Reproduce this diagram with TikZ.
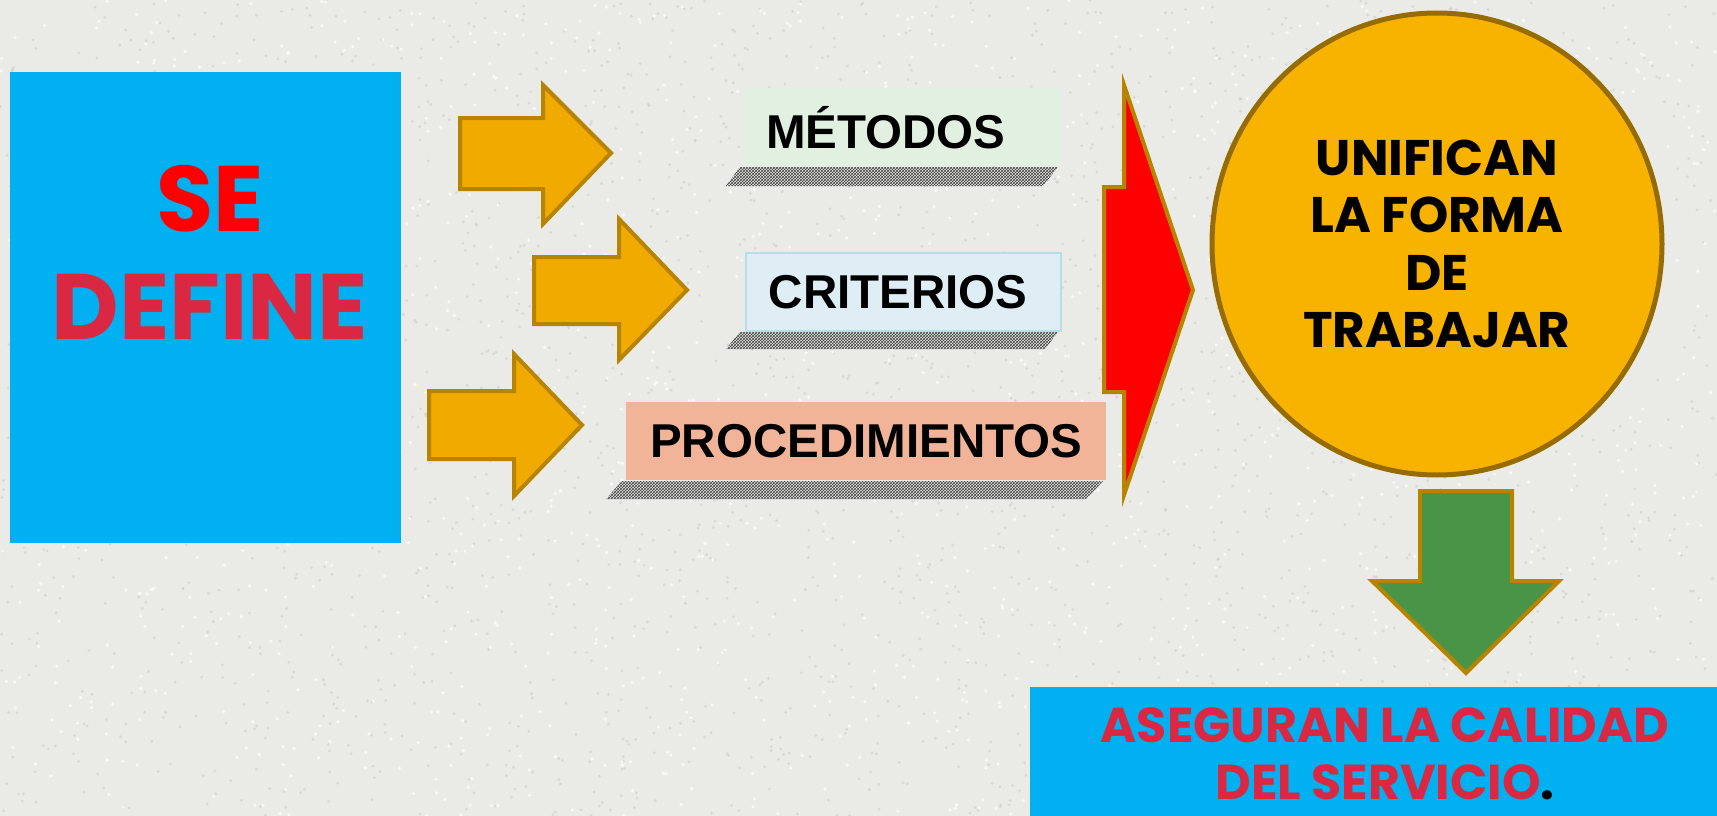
\documentclass[tikz,border=0pt]{standalone}
\usepackage{fontspec}
\newfontfamily\comicf{Poppins}
\newfontfamily\arialf{Liberation Sans}
\usetikzlibrary{shapes.geometric,patterns}
\definecolor{bg}{RGB}{234,234,230}
\definecolor{speck}{RGB}{205,205,200}
\definecolor{skyb}{RGB}{0,176,240}
\definecolor{crim}{RGB}{218,40,66}
\definecolor{orfill}{RGB}{240,170,0}
\definecolor{orline}{RGB}{184,132,0}
\definecolor{metfill}{RGB}{226,240,226}
\definecolor{crifill}{RGB}{222,238,244}
\definecolor{criline}{RGB}{183,221,232}
\definecolor{profill}{RGB}{241,180,152}
\definecolor{ballfill}{RGB}{248,178,0}
\definecolor{ballline}{RGB}{150,108,0}
\definecolor{grn}{RGB}{74,148,72}
\begin{document}
\begin{tikzpicture}[x=1pt,y=-1pt,
  blockarrow/.style={fill=orfill,draw=orline,line width=4pt,line join=miter},
  labelbox/.style={anchor=north west,inner ysep=0pt,minimum height=78pt,font=\arialf\bfseries\fontsize{47.5}{50}\selectfont,text=black},
  shadowfill/.style={pattern=crosshatch,pattern color=black!75},
  comictext/.style={align=center}]
\useasboundingbox (0,0) rectangle (1717,816);
\fill[bg] (0,0) rectangle (1717,816);
\pgfmathsetseed{7}
\foreach \i in {1,...,2500}{
  \pgfmathsetmacro{\px}{rnd*1717}
  \pgfmathsetmacro{\py}{rnd*816}
  \fill[speck,opacity=0.6] (\px,\py) circle[radius=1.6pt];
}
\foreach \i in {1,...,1500}{
  \pgfmathsetmacro{\px}{rnd*1717}
  \pgfmathsetmacro{\py}{rnd*816}
  \fill[white,opacity=0.7] (\px,\py) circle[radius=1.8pt];
}

% left blue box
\node[fill=skyb,anchor=north west,minimum width=391pt,minimum height=471pt,inner sep=0pt] (defbox) at (10,72) {};
\node[comictext,anchor=center,inner sep=0pt,font=\comicf\bfseries\fontsize{93}{108}\selectfont] (deftext) at (210,252)
  {\textcolor{red}{SE}\\\textcolor{crim}{DEFINE}};

% orange arrows
\draw[blockarrow] (460,118) -- (543,118) -- (543,85) -- (611,153) -- (543,224) -- (543,189) -- (460,189) -- cycle;
\draw[blockarrow] (534,257) -- (619,257) -- (619,219) -- (687,290) -- (619,360) -- (619,324) -- (534,324) -- cycle;
\draw[blockarrow] (429,391) -- (514,391) -- (514,354) -- (582,425) -- (514,496) -- (514,459) -- (429,459) -- cycle;

% shadows
\fill[shadowfill] (740,167) -- (1058,167) -- (1043,186) -- (726,186) -- cycle;
\fill[shadowfill] (740,332) -- (1058,332) -- (1045,349) -- (726,349) -- cycle;
\fill[shadowfill] (622,481) -- (1103,481) -- (1086,499) -- (606,499) -- cycle;

% label boxes
\node[labelbox,fill=metfill,inner xsep=21pt,text width=274pt,align=left] (met) at (745,88) {MÉTODOS};
\node[labelbox,fill=crifill,draw=criline,line width=1.5pt,inner xsep=23pt,text width=269pt,align=left] (cri) at (745,252) {CRITERIOS};
\node[labelbox,fill=profill,inner xsep=0pt,text width=480pt,align=center] (pro) at (626,402) {PROCEDIMIENTOS};

% red arrow
\draw[fill=red,draw=orline,line width=4pt] (1104,187) -- (1124,187) -- (1124,85) -- (1193,290) -- (1124,495) -- (1124,392) -- (1104,392) -- cycle;

% ball
\node[ellipse,fill=ballfill,draw=ballline,line width=5pt,minimum width=450pt,minimum height=462pt,inner sep=0pt,
  comictext,text=black,font=\comicf\bfseries\fontsize{50}{57.5}\selectfont] (uni) at (1437,244)
  {UNIFICAN\\LA FORMA\\DE\\TRABAJAR};

% green arrow
\draw[fill=grn,draw=orline,line width=4pt] (1420,491) -- (1512,491) -- (1512,581) -- (1559,581) -- (1466,673) -- (1372,581) -- (1420,581) -- cycle;

% bottom box
\node[fill=skyb,anchor=north west,minimum width=700pt,minimum height=140pt,inner sep=0pt] (ase) at (1030,687) {};
\node[comictext,inner sep=0pt,font=\comicf\bfseries\fontsize{49}{57}\selectfont] (asetext) at (1385,754)
  {\textcolor{crim}{ASEGURAN LA CALIDAD}\\\textcolor{crim}{DEL SERVICIO}\textcolor{black}{.}};
\end{tikzpicture}
\end{document}
